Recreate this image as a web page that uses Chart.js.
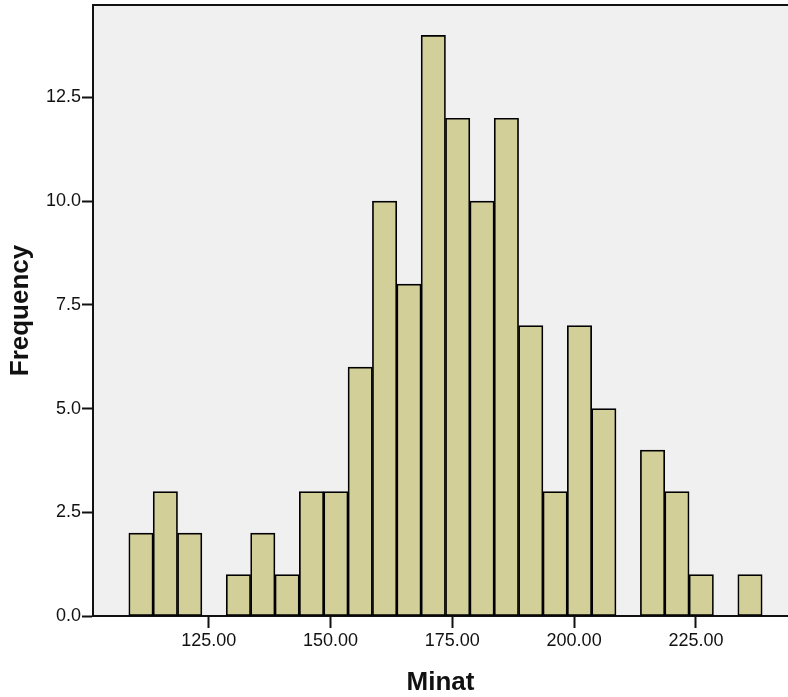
<!DOCTYPE html>
<html>
<head>
<meta charset="utf-8">
<script src="https://cdn.jsdelivr.net/npm/chart.js@4.4.1/dist/chart.umd.min.js"></script>
<style>
    html, body { margin: 0; padding: 0; background: #ffffff; }
    #wrap { width: 788px; height: 697px; position: relative; }
</style>
</head>
<body>
<div id="wrap"><canvas id="hist"></canvas></div>
<script>
// bin centres (Minat) and counts
const binCentres = [111.1, 116.1, 121.1, 126.1, 131.1, 136.1, 141.1, 146.1, 151.1, 156.1,
    161.1, 166.1, 171.1, 176.1, 181.1, 186.1, 191.1, 196.1, 201.1, 206.1,
    211.1, 216.1, 221.1, 226.1, 231.1, 236.1];
const frequencies = [2, 3, 2, 0, 1, 2, 1, 3, 3, 6,
    10, 8, 14, 12, 10, 12, 7, 3, 7, 5,
    0, 4, 3, 1, 0, 1];
const xTickValues = [125, 150, 175, 200, 225];
const yTickValues = [0, 2.5, 5, 7.5, 10, 12.5];

const labelFont = 'Arial, "Liberation Sans", sans-serif';

// plot background and top frame line
const plotFrame = {
    id: 'plotFrame',
    beforeDraw(chart) {
        let ctx = chart.ctx;
        let a = chart.chartArea;
        ctx.save();
        ctx.fillStyle = '#f0f0f0';
        ctx.fillRect(a.left, a.top, a.right - a.left, a.bottom - a.top);
        ctx.restore();
    },
    afterDraw(chart) {
        let ctx = chart.ctx;
        let a = chart.chartArea;
        ctx.save();
        ctx.strokeStyle = '#111';
        ctx.lineWidth = 2;
        ctx.beginPath();
        ctx.moveTo(a.left, a.top);
        ctx.lineTo(a.right, a.top);
        ctx.stroke();
        ctx.restore();
    }
};

let points = [];
for (i = 0; i < binCentres.length; i++) {
    points.push({ x: binCentres[i], y: frequencies[i] });
}

let ctx = document.getElementById('hist').getContext('2d');
let hist = new Chart(ctx, {
    type: 'bar',
    data: {
        datasets: [{
            data: points,
            backgroundColor: 'rgb(211, 207, 153)',
            borderColor: '#000',
            borderWidth: 1.7,
            borderSkipped: false,
            barPercentage: 1,
            categoryPercentage: 1
        }]
    },
    plugins: [plotFrame],
    options: {
        responsive: true,
        maintainAspectRatio: false,
        animation: false,
        layout: { padding: { top: 5, left: 0, right: 0, bottom: 0 } },
        plugins: {
            legend: { display: false },
            tooltip: { enabled: false }
        },
        scales: {
            x: {
                type: 'linear',
                min: 101.25,
                max: 243.9,
                offset: false,
                afterFit: function (scale) {
                    scale.height = 81;
                    scale.paddingLeft = 0;
                    scale.paddingRight = 0;
                },
                afterBuildTicks: function (scale) {
                    scale.ticks = xTickValues.map(v => ({ value: v }));
                },
                border: { display: true, color: '#111', width: 2 },
                grid: {
                    display: true,
                    offset: false,
                    drawOnChartArea: false,
                    drawTicks: true,
                    tickLength: 12,
                    tickColor: '#111',
                    tickWidth: 2
                },
                ticks: {
                    color: '#111',
                    padding: 2,
                    maxRotation: 0,
                    autoSkip: false,
                    font: { family: labelFont, size: 18 },
                    callback: v => v.toFixed(2)
                },
                title: {
                    display: true,
                    text: 'Minat',
                    color: '#111',
                    padding: { top: 0, bottom: 0 },
                    font: { family: labelFont, size: 26, weight: 'bold', lineHeight: 1.1 }
                }
            },
            y: {
                min: 0,
                max: 14.73,
                afterFit: function (scale) {
                    scale.width = 93;
                    scale.paddingTop = 0;
                    scale.paddingBottom = 0;
                },
                afterBuildTicks: function (scale) {
                    scale.ticks = yTickValues.map(v => ({ value: v }));
                },
                border: { display: true, color: '#111', width: 2 },
                grid: {
                    display: true,
                    drawOnChartArea: false,
                    drawTicks: true,
                    tickLength: 11,
                    tickColor: '#111',
                    tickWidth: 2
                },
                ticks: {
                    color: '#111',
                    padding: 1,
                    autoSkip: false,
                    font: { family: labelFont, size: 18 },
                    callback: v => v.toFixed(1)
                },
                title: {
                    display: true,
                    text: 'Frequency',
                    color: '#111',
                    padding: { top: 5, bottom: 0 },
                    font: { family: labelFont, size: 26, weight: 'bold', lineHeight: 1.2 }
                }
            }
        }
    }
});
</script>
</body>
</html>
